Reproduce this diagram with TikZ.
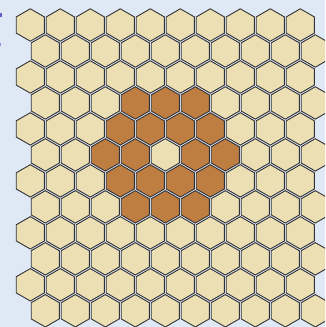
\documentclass[tikz,border=0pt]{standalone}
\usepackage{tikz}

\definecolor{sand}{RGB}{236,223,180}
\definecolor{clay}{RGB}{190,126,66}
\definecolor{paleblue}{RGB}{223,233,245}
\definecolor{edgegray}{RGB}{50,50,55}
\definecolor{ink}{RGB}{110,90,200}

\begin{document}
\begin{tikzpicture}[x=1pt, y=-1pt, hexcell/.style={draw=edgegray, line width=0.9pt}]
    % page
    \useasboundingbox (0,0) rectangle (325,327);
    \fill[paleblue] (0,0) rectangle (325,327);
    \clip (0,0) rectangle (325,327);

    % marks on the left edge
    \fill[ink] (0,12.5) rectangle (2.2,17);
    \fill[ink!70] (0,43) rectangle (1.2,46);

    % cells, ring of radius 2 round the middle one
    \foreach \r in {0,...,11} {
        \foreach \c in {0,...,9} {
            \pgfmathsetmacro{\cx}{30.3 + 30*\c + 15*mod(\r,2)}
            \pgfmathsetmacro{\cy}{25 + 25.98*\r}
            \pgfmathsetmacro{\dd}{veclen(\cx-165.3, \cy-154.9)}
            \pgfmathtruncatemacro{\inring}{(\dd>1)&&(\dd<70)}
            \ifnum\inring=1 \def\cellfill{clay}\else\def\cellfill{sand}\fi
            \draw[hexcell, fill=\cellfill] (\cx,\cy) +(90:16.2) -- +(150:16.2) -- +(210:16.2)
                -- +(270:16.2) -- +(330:16.2) -- +(30:16.2) -- cycle;
        }
    }
\end{tikzpicture}
\end{document}
